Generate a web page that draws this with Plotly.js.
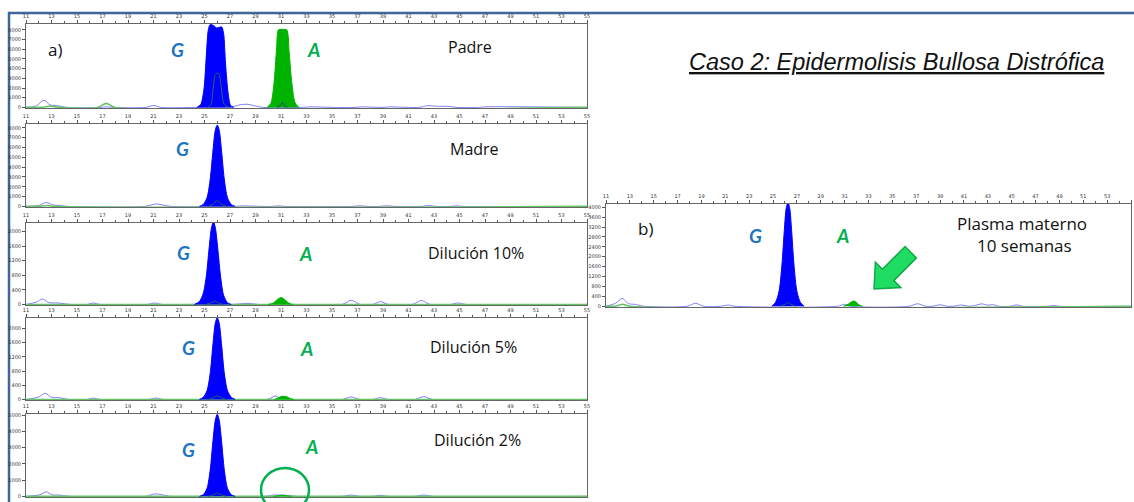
<!DOCTYPE html>
<html>
<head>
<meta charset="utf-8">
<script src="https://cdn.plot.ly/plotly-3.0.1.min.js"></script>
<style>
html,body{margin:0;padding:0;background:#fff;}
#chart{width:1134px;height:502px;}
</style>
</head>
<body>
<div id="chart"></div>
<script>
// ---------- DATA (fragment size in bp vs. fluorescence units) ----------
// Padre
const padreGX = [24.4, 24.7, 24.95, 25.15, 25.3, 25.45, 25.7, 25.95, 26.15, 26.35, 26.5, 26.65, 26.85, 27.05, 27.3];
const padreGY = [0, 300, 1800, 5500, 8000, 8550, 8450, 8200, 8250, 8300, 7600, 4500, 1500, 200, 0];
const padreAX = [29.9, 30.2, 30.45, 30.65, 30.8, 31.0, 31.2, 31.45, 31.65, 31.85, 32.1, 32.4];
const padreAY = [0, 400, 2500, 6000, 8000, 8050, 8050, 8000, 5500, 2500, 500, 0];
const padreInnerX = [25.25, 25.5, 25.7, 25.85, 26.0, 26.15, 26.3, 26.55, 26.9];
const padreInnerY = [0, 300, 2200, 3400, 3550, 3400, 2200, 300, 0];
const padreInnerAX = [30.7, 30.95, 31.1, 31.25, 31.5];
const padreInnerAY = [0, 200, 500, 200, 0];
const padreNoiseX = [11, 11.8, 12.4, 12.9, 13.4, 14.2, 16.8, 17.3, 17.8, 20.4, 21.0, 21.6, 24.3, 27.3, 27.8, 28.4, 29.0, 29.6, 32.5, 33.5, 35, 36.8, 37.3, 39, 39.5, 41.8, 42.5, 43.2, 44.2, 44.8, 46.5, 47, 55];
const padreNoiseY = [0, 150, 750, 250, 200, 0, 0, 60, 0, 0, 200, 0, 0, 100, 280, 320, 150, 0, 0, 60, 0, 0, 60, 0, 60, 0, 180, 120, 100, 0, 0, 60, 0];
const padreGreenX = [11, 12.2, 12.9, 13.6, 16.6, 17.3, 18.0, 55];
const padreGreenY = [0, 0, 150, 0, 0, 420, 0, 0];

// Madre
const madreGX = [24.6, 24.9, 25.2, 25.45, 25.65, 25.85, 26.0, 26.15, 26.35, 26.55, 26.8, 27.1, 27.4];
const madreGY = [0, 200, 900, 2800, 5500, 7800, 8300, 7800, 5500, 2800, 900, 200, 0];
const madreInnerX = [25.3, 25.7, 26.0, 26.3, 26.7];
const madreInnerY = [0, 250, 600, 250, 0];
const madreNoiseX = [11, 12.0, 12.6, 13.1, 13.6, 14.3, 20.3, 21.2, 21.9, 22.4, 27.4, 28.0, 28.6, 29.5, 30.2, 30.8, 31.4, 36.5, 37.2, 37.8, 38.6, 39.3, 40, 42, 42.6, 43.2, 44.3, 44.8, 45.3, 55];
const madreNoiseY = [0, 100, 400, 150, 100, 0, 0, 250, 100, 0, 0, 60, 40, 0, 0, 50, 0, 0, 60, 0, 0, 60, 0, 0, 100, 0, 0, 60, 0, 0];
const madreGreenX = [11, 12.0, 12.6, 13.2, 55];
const madreGreenY = [0, 0, 100, 0, 0];

// Dilución 10%
const d10GX = [24.2, 24.6, 24.9, 25.15, 25.35, 25.55, 25.7, 25.85, 26.05, 26.25, 26.5, 26.8, 27.1];
const d10GY = [0, 80, 300, 800, 1500, 2100, 2260, 2100, 1500, 800, 250, 50, 0];
const d10AX = [30.0, 30.4, 30.7, 31.0, 31.3, 31.6, 31.9];
const d10AY = [0, 40, 130, 190, 130, 40, 0];
const d10InnerX = [25.1, 25.5, 25.8, 26.1, 26.5];
const d10InnerY = [0, 40, 90, 40, 0];
const d10NoiseX = [11, 11.8, 12.3, 12.8, 13.5, 14.5, 15.8, 16.3, 16.8, 20.5, 21.1, 21.7, 24.0, 27.2, 28.4, 29.2, 32.0, 35.8, 36.5, 37.2, 38.2, 38.8, 39.4, 41.3, 42.0, 42.7, 44.3, 44.9, 45.5, 55];
const d10NoiseY = [0, 60, 150, 50, 40, 0, 0, 40, 0, 0, 40, 0, 0, 0, 30, 0, 0, 0, 115, 0, 0, 80, 0, 0, 110, 0, 0, 40, 0, 0];
const d10GreenX = [11, 55];
const d10GreenY = [0, 0];

// Dilución 5%
const d5GX = [24.6, 24.9, 25.2, 25.45, 25.65, 25.85, 26.0, 26.15, 26.35, 26.55, 26.8, 27.1, 27.4];
const d5GY = [0, 60, 250, 750, 1500, 2150, 2300, 2150, 1500, 750, 250, 60, 0];
const d5AX = [30.5, 30.8, 31.1, 31.4, 31.7, 32.0];
const d5AY = [0, 50, 90, 80, 30, 0];
const d5InnerX = [25.3, 25.7, 26.0, 26.3, 26.7];
const d5InnerY = [0, 50, 100, 50, 0];
const d5NoiseX = [11, 12.0, 12.5, 13.0, 13.6, 14.4, 15.8, 16.3, 16.8, 20.6, 21.2, 21.8, 29.9, 30.6, 31.1, 35.8, 36.5, 37.2, 38.2, 38.8, 39.4, 41.5, 42.2, 42.9, 55];
const d5NoiseY = [0, 70, 175, 60, 50, 0, 0, 40, 0, 0, 40, 0, 0, 100, 0, 0, 70, 0, 0, 50, 0, 0, 80, 0, 0];
const d5GreenX = [11, 55];
const d5GreenY = [0, 0];

// Dilución 2%
const d2GX = [24.6, 24.9, 25.2, 25.45, 25.65, 25.85, 26.0, 26.15, 26.35, 26.55, 26.8, 27.1, 27.4];
const d2GY = [0, 100, 500, 1650, 3300, 4700, 5050, 4700, 3300, 1650, 500, 100, 0];
const d2AX = [30.4, 30.8, 31.1, 31.4, 31.8];
const d2AY = [0, 40, 70, 40, 0];
const d2InnerX = [25.3, 25.7, 26.0, 26.3, 26.7];
const d2InnerY = [0, 100, 200, 100, 0];
const d2NoiseX = [11, 12.1, 12.6, 13.0, 13.6, 14.4, 20.4, 21.1, 21.8, 22.3, 29.8, 30.5, 31.5, 32.2, 35.8, 36.5, 37.2, 38.2, 38.8, 39.4, 41.5, 42.2, 42.9, 55];
const d2NoiseY = [0, 100, 280, 100, 80, 0, 0, 150, 80, 0, 0, 80, 60, 0, 0, 80, 0, 0, 60, 0, 0, 80, 0, 0];
const d2GreenX = [11, 55];
const d2GreenY = [0, 0];

// Plasma materno 10 semanas
const plasmaGX = [24.9, 25.2, 25.5, 25.75, 25.95, 26.1, 26.25, 26.4, 26.55, 26.75, 27.0, 27.3, 27.6];
const plasmaGY = [0, 150, 600, 1700, 3100, 3950, 4200, 3950, 3100, 1700, 600, 150, 0];
const plasmaAX = [30.9, 31.3, 31.55, 31.75, 31.95, 32.2, 32.5];
const plasmaAY = [0, 80, 170, 210, 170, 60, 0];
const plasmaInnerX = [25.6, 26.0, 26.25, 26.5, 26.9];
const plasmaInnerY = [0, 80, 150, 80, 0];
const plasmaNoiseX = [11, 11.8, 12.35, 12.9, 13.4, 14.2, 17.8, 18.5, 19.2, 20.6, 21.2, 21.8, 30.4, 31.0, 31.5, 36.4, 37.1, 37.8, 38.4, 39.0, 39.6, 40.1, 40.8, 41.4, 42.0, 42.5, 43.0, 43.4, 43.9, 44.9, 45.4, 45.9, 48.0, 48.5, 49.0, 55];
const plasmaNoiseY = [0, 120, 320, 100, 80, 0, 0, 120, 0, 0, 50, 0, 0, 80, 0, 0, 100, 0, 0, 60, 0, 0, 50, 0, 40, 100, 40, 70, 0, 0, 60, 0, 0, 30, 0, 0];
const plasmaGreenX = [11, 11.8, 12.4, 13.0, 55];
const plasmaGreenY = [0, 0, 80, 0, 0];

// Axis tick values
const sizeTicks = [11, 13, 15, 17, 19, 21, 23, 25, 27, 29, 31, 33, 35, 37, 39, 41, 43, 45, 47, 49, 51, 53, 55];
const ticks8000 = [0, 1000, 2000, 3000, 4000, 5000, 6000, 7000, 8000];
const ticks2000 = [0, 400, 800, 1200, 1600, 2000];
const ticks5000 = [0, 1000, 2000, 3000, 4000, 5000];
const ticks4000 = [0, 400, 800, 1200, 1600, 2000, 2400, 2800, 3200, 3600, 4000];

// ---------- LAYOUT HELPERS ----------
const W = 1134, H = 502;
const PX = p => p / W;
const PY = p => 1 - p / H;

const BLUE = '#0000ff', GREEN = '#00b300', NOISE = '#8080ff', BASE = '#66c466', INNER = '#1f6a5a';

const traces = [];
function addPanel(n, noiseX, noiseY, greenX, greenY, gX, gY, aX, aY, innerX, innerY, innerAX, innerAY) {
  const xa = n === 1 ? 'x' : 'x' + n, ya = n === 1 ? 'y' : 'y' + n;
  const common = {xaxis: xa, yaxis: ya, mode: 'lines', hoverinfo: 'skip', showlegend: false};
  traces.push(Object.assign({x: noiseX, y: noiseY, line: {color: NOISE, width: 1, shape: 'spline', smoothing: 0.8}}, common));
  traces.push(Object.assign({x: greenX, y: greenY, line: {color: BASE, width: 1.6, shape: 'spline', smoothing: 0.8}}, common));
  traces.push(Object.assign({x: gX, y: gY, fill: 'tozeroy', fillcolor: BLUE, line: {color: BLUE, width: 1, shape: 'spline', smoothing: 0.8}}, common));
  if (aX) traces.push(Object.assign({x: aX, y: aY, fill: 'tozeroy', fillcolor: GREEN, line: {color: GREEN, width: 1, shape: 'spline', smoothing: 0.8}}, common));
  traces.push(Object.assign({x: innerX, y: innerY, line: {color: INNER, width: 1, shape: 'spline', smoothing: 0.8}}, common));
  if (innerAX) traces.push(Object.assign({x: innerAX, y: innerAY, line: {color: '#1f3f8a', width: 1, shape: 'spline', smoothing: 0.8}}, common));
}

addPanel(1, padreNoiseX, padreNoiseY, padreGreenX, padreGreenY, padreGX, padreGY, padreAX, padreAY, padreInnerX, padreInnerY, padreInnerAX, padreInnerAY);
addPanel(2, madreNoiseX, madreNoiseY, madreGreenX, madreGreenY, madreGX, madreGY, null, null, madreInnerX, madreInnerY);
addPanel(3, d10NoiseX, d10NoiseY, d10GreenX, d10GreenY, d10GX, d10GY, d10AX, d10AY, d10InnerX, d10InnerY);
addPanel(4, d5NoiseX, d5NoiseY, d5GreenX, d5GreenY, d5GX, d5GY, d5AX, d5AY, d5InnerX, d5InnerY);
addPanel(5, d2NoiseX, d2NoiseY, d2GreenX, d2GreenY, d2GX, d2GY, d2AX, d2AY, d2InnerX, d2InnerY);
addPanel(6, plasmaNoiseX, plasmaNoiseY, plasmaGreenX, plasmaGreenY, plasmaGX, plasmaGY, plasmaAX, plasmaAY, plasmaInnerX, plasmaInnerY);

function xAxis(px0, px1, anchor) {
  return {
    domain: [PX(px0), PX(px1)], anchor: anchor, side: 'top', range: [11, 55],
    tickmode: 'array', tickvals: sizeTicks, ticktext: sizeTicks.map(String),
    ticks: 'outside', ticklen: 3, tickwidth: 1, tickcolor: '#555',
    minor: {dtick: 1, tick0: 11, ticks: 'outside', ticklen: 2, tickcolor: '#555', showgrid: false},
    tickfont: {size: 5, color: '#333', family: 'DejaVu Sans'},
    showline: true, linecolor: '#666', linewidth: 1, mirror: true,
    showgrid: false, zeroline: false, fixedrange: true
  };
}
function yAxis(py0, py1, anchor, range, tv) {
  return {
    domain: [PY(py1), PY(py0)], anchor: anchor, range: range,
    tickmode: 'array', tickvals: tv, ticktext: tv.map(String),
    ticks: 'outside', ticklen: 3, tickwidth: 1, tickcolor: '#555',
    tickfont: {size: 5, color: '#333', family: 'DejaVu Sans'},
    showline: true, linecolor: '#666', linewidth: 1, mirror: true,
    showgrid: false, zeroline: false, fixedrange: true
  };
}

const layout = {
  width: W, height: H,
  margin: {l: 0, r: 0, t: 0, b: 0, pad: 0},
  paper_bgcolor: '#ffffff', plot_bgcolor: '#ffffff',
  showlegend: false,
  xaxis: xAxis(26, 587, 'y'),
  yaxis: yAxis(24, 108, 'x', [-60, 8600], ticks8000),
  xaxis2: xAxis(26, 587, 'y2'),
  yaxis2: yAxis(124, 207, 'x2', [-60, 8400], ticks8000),
  xaxis3: xAxis(26, 587, 'y3'),
  yaxis3: yAxis(223, 305, 'x3', [-15, 2230], ticks2000),
  xaxis4: xAxis(26, 587, 'y4'),
  yaxis4: yAxis(318, 400, 'x4', [-15, 2290], ticks2000),
  xaxis5: xAxis(26, 587, 'y5'),
  yaxis5: yAxis(414, 497, 'x5', [-40, 5070], ticks5000),
  xaxis6: xAxis(606, 1131, 'y6'),
  yaxis6: yAxis(204, 307, 'x6', [-30, 4130], ticks4000),
  annotations: [],
  shapes: []
};

function note(text, px, py, size, color, fam) {
  layout.annotations.push({
    text: text, xref: 'paper', yref: 'paper', x: PX(px), y: PY(py),
    xanchor: 'center', yanchor: 'middle', showarrow: false,
    font: {family: fam || 'Open Sans, sans-serif', size: size, color: color}
  });
}
const GCOL = '#1b75c4', ACOL = '#00b050';
const gFont = {family: 'Lato, sans-serif', size: 19, color: GCOL, weight: 'bold', style: 'italic'};
const aFont = {family: 'Lato, sans-serif', size: 19, color: ACOL, weight: 'bold', style: 'italic'};
function letter(t, px, py, f) {
  layout.annotations.push({text: t, xref: 'paper', yref: 'paper', x: PX(px), y: PY(py), xanchor: 'center', yanchor: 'middle', showarrow: false, font: f});
}

note('<i><u>Caso 2: Epidermolisis Bullosa Distrófica</u></i>', 896, 62, 23.5, '#111', 'Liberation Sans, Arial, sans-serif');
note('a)', 55, 49, 17, '#111');
note('Padre', 470, 47, 16, '#111');
letter('G', 177, 49, gFont); letter('A', 313, 49, aFont);
note('Madre', 474, 149, 16, '#111');
letter('G', 182, 149, gFont);
note('Dilución 10%', 476, 253, 16, '#111');
letter('G', 183, 252, gFont); letter('A', 305, 253, aFont);
note('Dilución 5%', 473, 347, 16, '#111');
letter('G', 188, 347, gFont); letter('A', 306, 348, aFont);
note('Dilución 2%', 477, 440, 16, '#111');
letter('G', 188, 449, gFont); letter('A', 311, 446, aFont);
note('b)', 645, 228, 17, '#111');
letter('G', 755, 235, gFont); letter('A', 842, 235, aFont);
note('Plasma materno', 1022, 223, 17, '#111');
note('10 semanas', 1024, 245, 17, '#111');

// slide frame
layout.shapes.push({type: 'rect', xref: 'paper', yref: 'paper', x0: PX(9), x1: 1.02, y0: -0.05, y1: PY(13),
  line: {color: '#3f6699', width: 2.5}, fillcolor: 'rgba(0,0,0,0)', layer: 'below'});

// arrow (pixel geometry -> paper)
const arrowPts = [[874, 289], [875.4, 262.2], [882.4, 269.2], [905.1, 246.5], [916.4, 257.9], [893.8, 280.6], [900.8, 287.6]];
let pth = 'M ' + arrowPts.map(p => PX(p[0]).toFixed(5) + ',' + PY(p[1]).toFixed(5)).join(' L ') + ' Z';
layout.shapes.push({type: 'path', xref: 'paper', yref: 'paper', path: pth,
  fillcolor: '#1fdc62', line: {color: '#12a84a', width: 1.5}});

// circle around the A position in 2% dilution
layout.shapes.push({type: 'circle', xref: 'paper', yref: 'paper', x0: PX(261), x1: PX(309), y0: PY(512), y1: PY(468),
  line: {color: '#00b050', width: 2.5}, fillcolor: 'rgba(0,0,0,0)'});

Plotly.newPlot('chart', traces, layout, {staticPlot: true, displayModeBar: false});
</script>
</body>
</html>
